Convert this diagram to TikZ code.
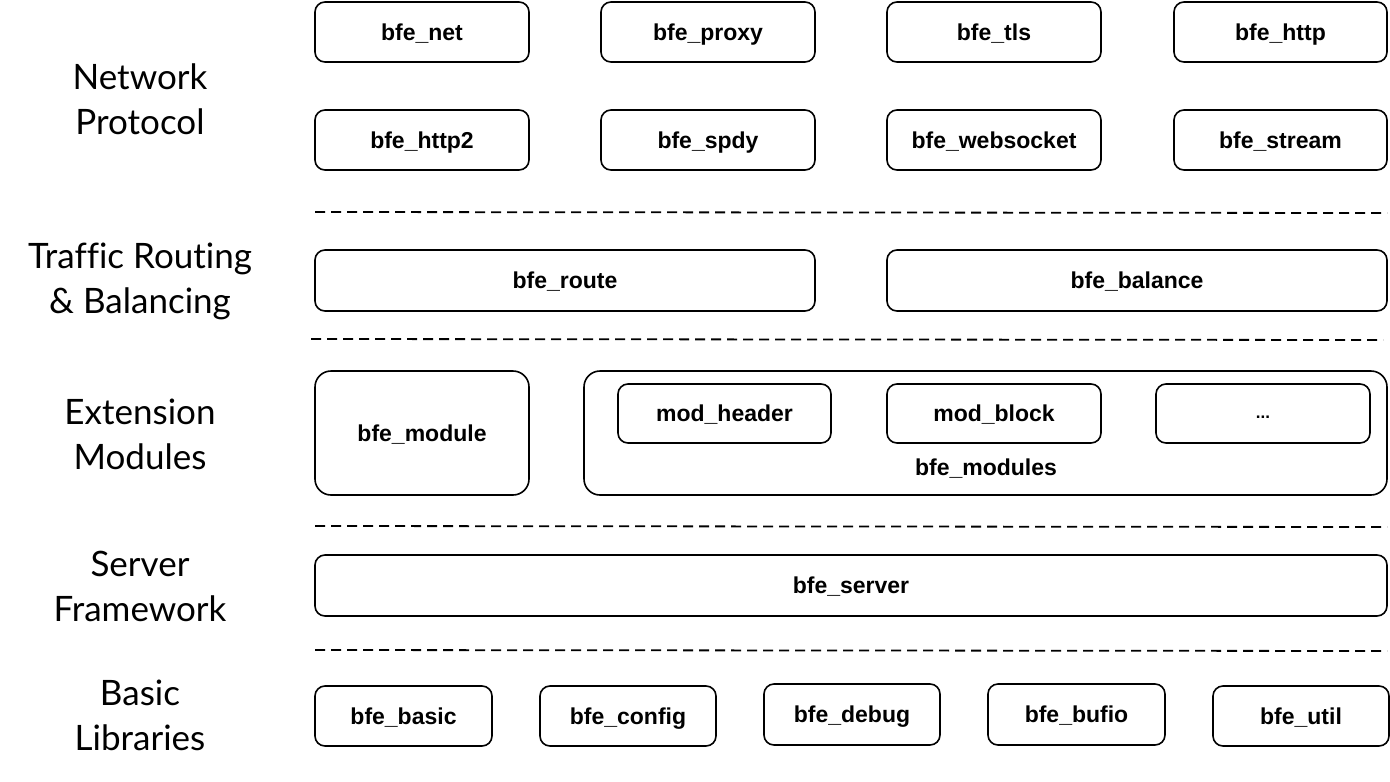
\documentclass[tikz,border=0pt]{standalone}
\usepackage{fontspec}
\setmainfont{Liberation Sans}
\newfontfamily\labfont[Ligatures=NoCommon]{Lato}
\begin{document}
\begin{tikzpicture}[x=1pt,y=-1pt,
  box/.style={draw,line width=1.6pt,rounded corners=10pt,inner sep=0pt,text height=19pt,text depth=3pt,font=\fontsize{23}{26}\selectfont\bfseries},
  lay/.style={align=center,font=\labfont\fontsize{35}{45}\selectfont},
  sep/.style={line width=1.8pt,dash pattern=on 10pt off 6pt}]
\useasboundingbox (0,0) rectangle (1390,782);
% Network protocol
\node[lay] (l1) at (140,99) {Network\\Protocol};
\node[box,minimum width=214pt,minimum height=60pt] (net) at (422,32) {bfe\_net};
\node[box,minimum width=214pt,minimum height=60pt] (proxy) at (708,32) {bfe\_proxy};
\node[box,minimum width=214pt,minimum height=60pt] (tls) at (994,32) {bfe\_tls};
\node[box,minimum width=213pt,minimum height=60pt] (http) at (1280.5,32) {bfe\_http};
\node[box,minimum width=214pt,minimum height=60pt] (http2) at (422,140) {bfe\_http2};
\node[box,minimum width=214pt,minimum height=60pt] (spdy) at (708,140) {bfe\_spdy};
\node[box,minimum width=214pt,minimum height=60pt] (ws) at (994,140) {bfe\_websocket};
\node[box,minimum width=213pt,minimum height=60pt] (stream) at (1280.5,140) {bfe\_stream};
\coordinate (d1a) at (315,212); \coordinate (d1b) at (1387,213);
\draw[sep] (d1a) -- (d1b);
% Traffic routing
\node[lay] (l2) at (140,281) {Traffic Routing\\\& Balancing};
\node[box,minimum width=500pt,minimum height=61pt] (route) at (565,280.5) {bfe\_route};
\node[box,minimum width=500pt,minimum height=61pt] (balance) at (1137,280.5) {bfe\_balance};
\coordinate (d2a) at (311,339); \coordinate (d2b) at (1383,340);
\draw[sep] (d2a) -- (d2b);
% Extension modules
\node[lay] (l3) at (140,434) {Extension\\Modules};
\node[box,rounded corners=16pt,minimum width=214pt,minimum height=124pt] (module) at (422,433) {bfe\_module};
\node[box,rounded corners=16pt,minimum width=803pt,minimum height=124pt] (mods) at (985.5,433) {};
\node[box,minimum width=213pt,minimum height=59pt] (mheader) at (724.5,413.5) {mod\_header};
\node[box,minimum width=214pt,minimum height=59pt] (mblock) at (994,413.5) {mod\_block};
\node[box,minimum width=214pt,minimum height=59pt] (mdots) at (1263,413.5) {\raisebox{3pt}{\fontsize{17}{20}\selectfont ...}};
\node[inner sep=0pt,text height=19pt,text depth=3pt,font=\fontsize{23}{26}\selectfont\bfseries] (modslab) at (986,467) {bfe\_modules};
\coordinate (d3a) at (315,526); \coordinate (d3b) at (1387,527);
\draw[sep] (d3a) -- (d3b);
% Server framework
\node[lay] (l4) at (140,586) {Server\\Framework};
\node[box,minimum width=1072pt,minimum height=61pt] (server) at (851,585.5) {bfe\_server};
\coordinate (d4a) at (315,650); \coordinate (d4b) at (1387,651);
\draw[sep] (d4a) -- (d4b);
% Basic libraries
\node[lay] (l5) at (140,715) {Basic\\Libraries};
\node[box,minimum width=177pt,minimum height=60pt] (basic) at (403.5,716) {bfe\_basic};
\node[box,minimum width=176pt,minimum height=60pt] (config) at (628,716) {bfe\_config};
\node[box,minimum width=176pt,minimum height=61pt] (debug) at (852,714.5) {bfe\_debug};
\node[box,minimum width=177pt,minimum height=61pt] (bufio) at (1076.5,714.5) {bfe\_bufio};
\node[box,minimum width=176pt,minimum height=60pt] (util) at (1301,716) {bfe\_util};
\end{tikzpicture}
\end{document}
